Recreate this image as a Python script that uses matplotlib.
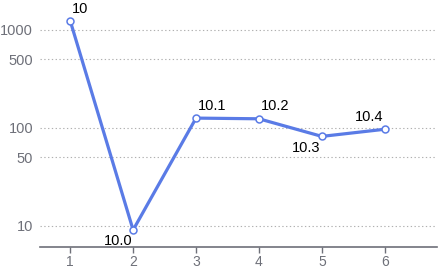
import matplotlib
matplotlib.use("Agg")
import matplotlib.pyplot as plt
import numpy as np

x_vals = [1, 2, 3, 4, 5, 6]
y_vals = [1240, 9.1, 126, 124, 82, 97]
labels = ["10", "10.0", "10.1", "10.2", "10.3", "10.4"]
y_ticks = [10, 50, 100, 500, 1000]
x_ticks = [1, 2, 3, 4, 5, 6]

plt.rcParams['font.family'] = ['Liberation Sans', 'DejaVu Sans']

fig = plt.figure(figsize=(4.39, 2.69), dpi=100)
ax = fig.add_axes([40/439, 1-247/269, (437-40)/439, 247/269])

color = '#5a7be6'
ax.plot(x_vals, y_vals, color=color, lw=2.3, marker='o', markersize=5,
        markerfacecolor='white', markeredgecolor=color, markeredgewidth=1.1, zorder=3)

ax.set_yscale('log')
ax.set_ylim(6.1, 2020)
ax.set_xlim(0.52, 6.83)
ax.set_yticks(y_ticks)
ax.set_yticklabels([str(t) for t in y_ticks])
ax.yaxis.set_minor_locator(matplotlib.ticker.NullLocator())
ax.set_xticks(x_ticks)
ax.set_xticklabels([str(t) for t in x_ticks])

for s in ['top', 'right', 'left']:
    ax.spines[s].set_visible(False)
ax.spines['bottom'].set_color('#6e7079')
ax.spines['bottom'].set_linewidth(1.2)
ax.tick_params(axis='y', length=0, labelsize=10.5, labelcolor='#6e7079', pad=5)
ax.tick_params(axis='x', length=4, width=1, color='#6e7079', labelsize=10,
               labelcolor='#6e7079', pad=1.5)
ax.grid(axis='y', color='#b0b0b0', linestyle=(0, (1.2, 2.2)), linewidth=0.8)
ax.set_axisbelow(True)

offsets = [((2, 5), 'left', 'bottom'),
           ((-1, -4), 'right', 'top'),
           ((2, 5), 'left', 'bottom'),
           ((2, 6), 'left', 'bottom'),
           ((-1, -5), 'right', 'top'),
           ((-1, 5), 'right', 'bottom')]
for xv, yv, lab, (off, ha, va) in zip(x_vals, y_vals, labels, offsets):
    ax.annotate(lab, (xv, yv), xytext=off, textcoords='offset pixels',
                ha=ha, va=va, fontsize=10.5, color='black')

fig.savefig('out.png', dpi=100)
